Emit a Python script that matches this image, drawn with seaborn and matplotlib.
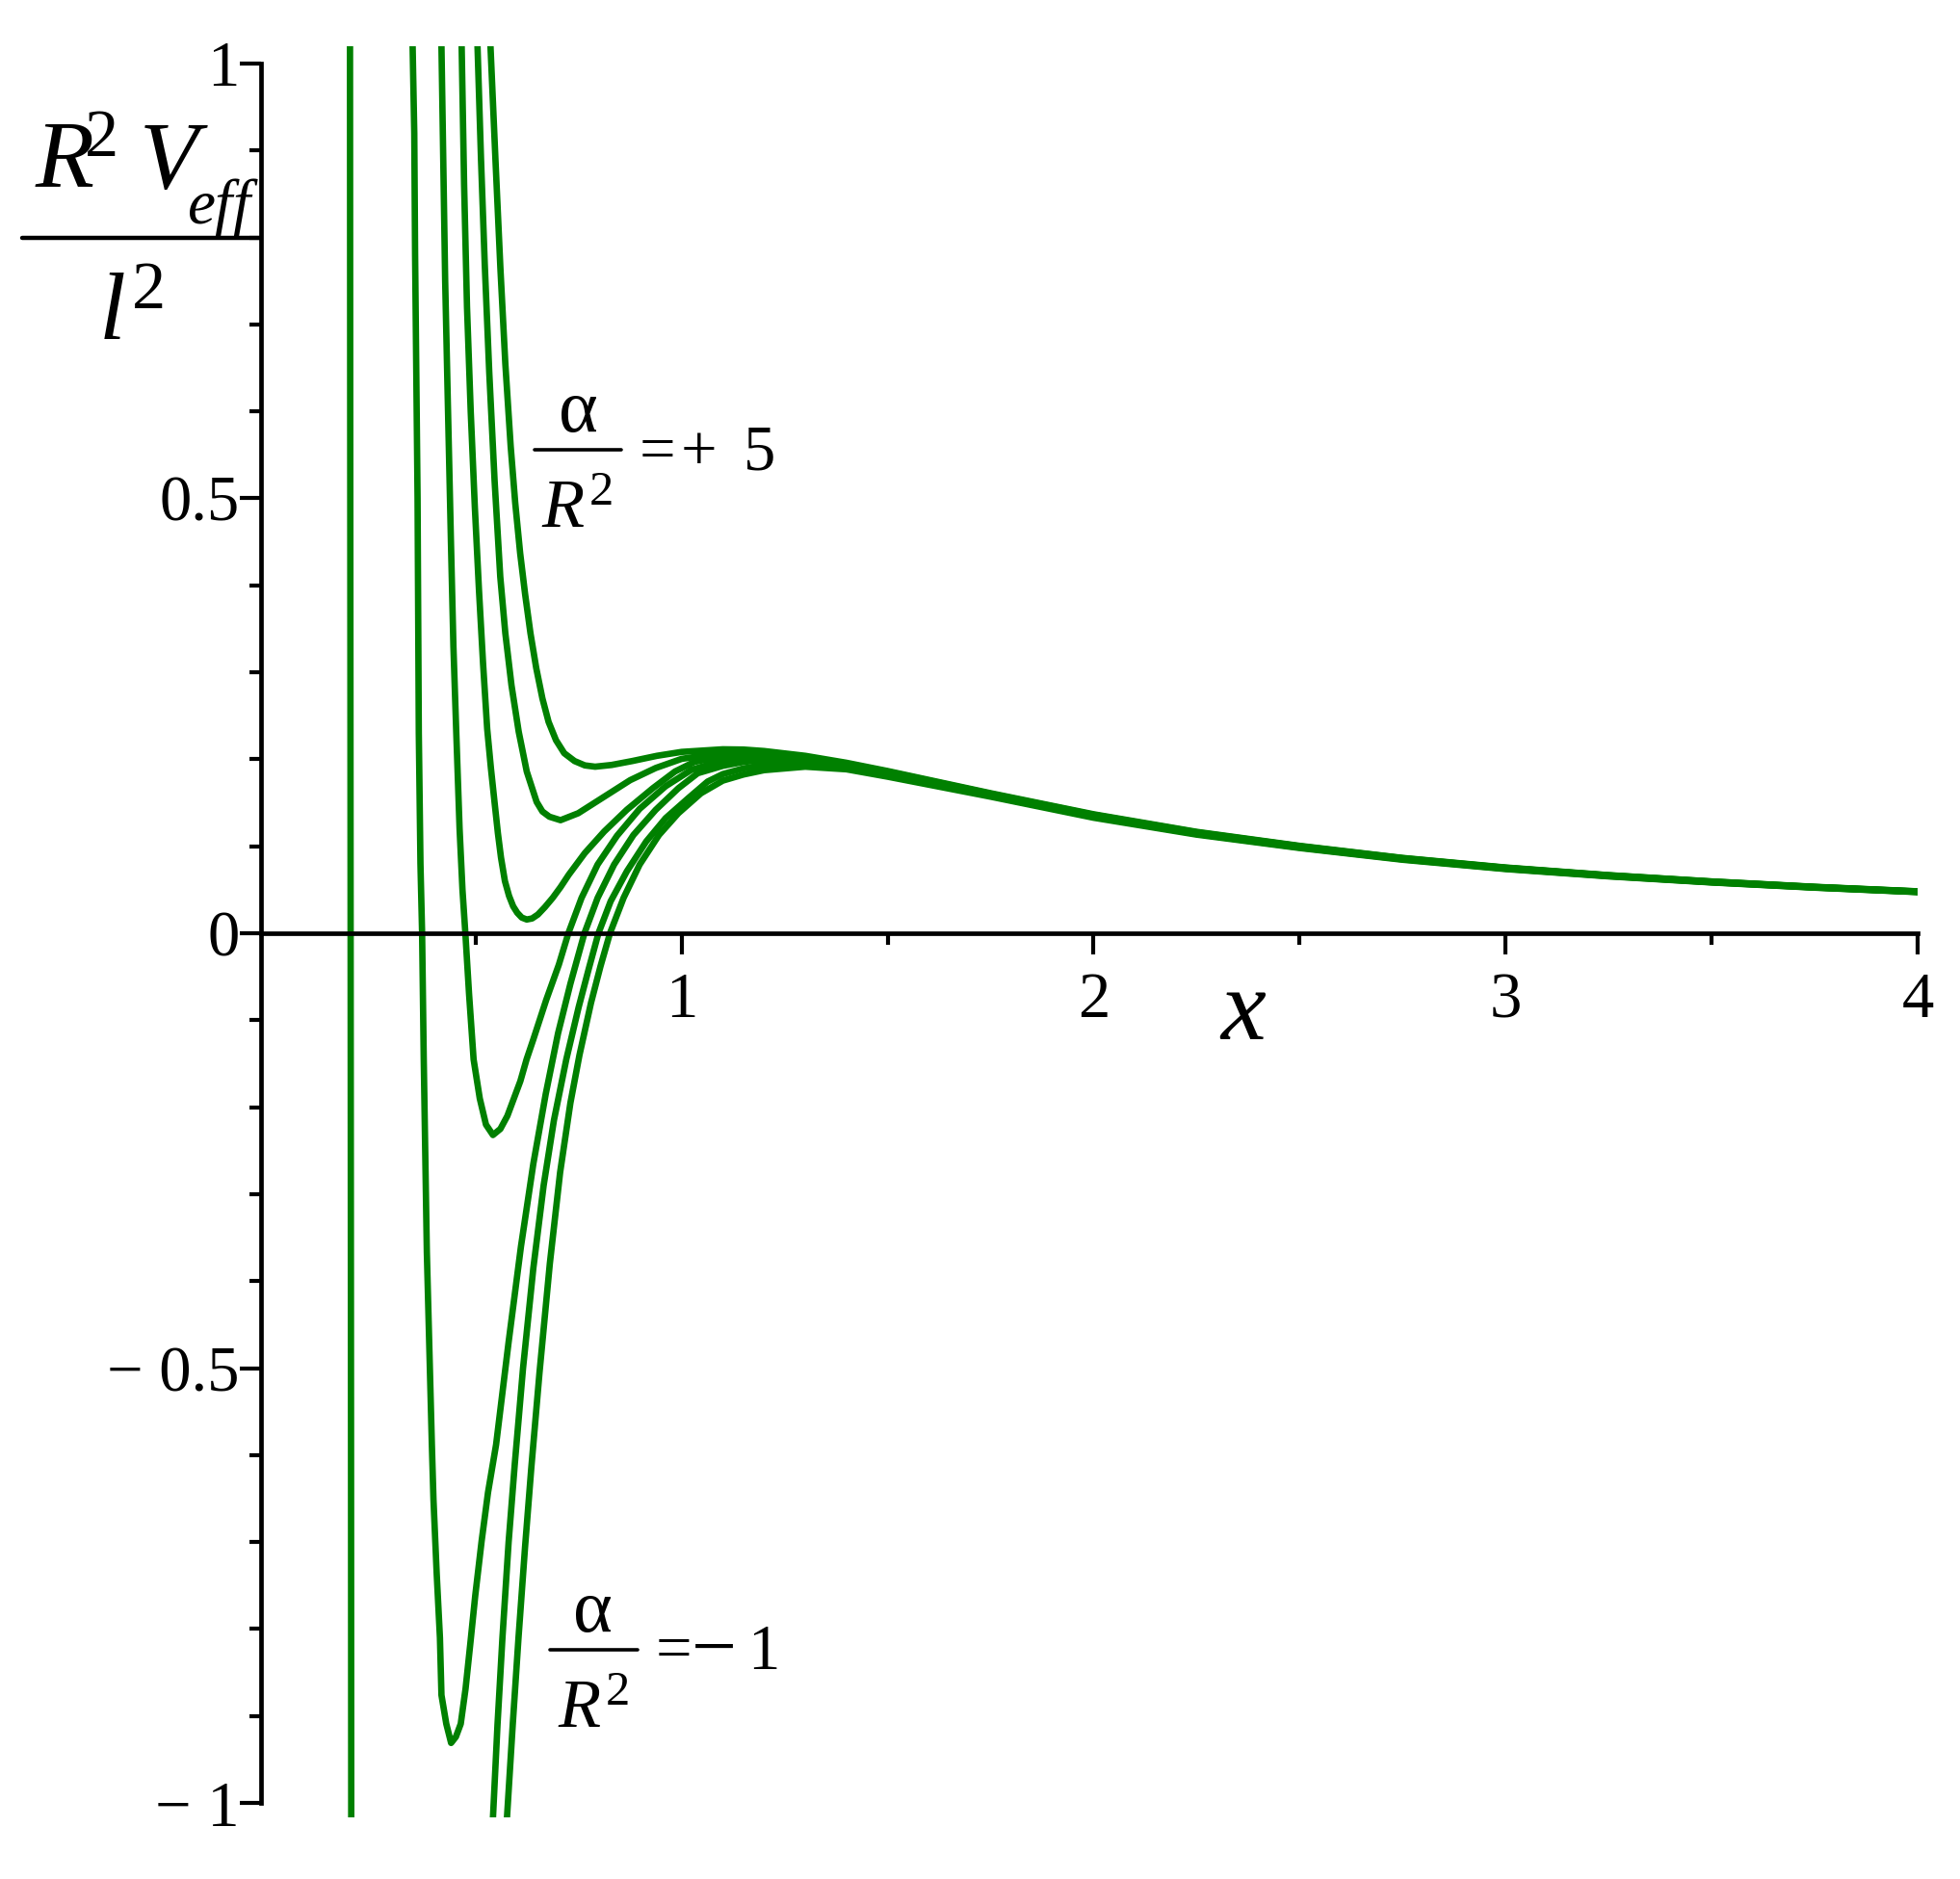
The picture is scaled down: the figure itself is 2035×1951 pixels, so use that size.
import matplotlib
matplotlib.use("Agg")
import matplotlib.pyplot as plt
from matplotlib.lines import Line2D
import seaborn as sns
import pandas as pd

sns.set_style("white")
plt.rcParams["font.family"] = ["Liberation Serif", "DejaVu Serif"]
plt.rcParams["mathtext.fontset"] = "custom"
plt.rcParams["mathtext.rm"] = "Liberation Serif"
plt.rcParams["mathtext.it"] = "Liberation Serif:italic"
plt.rcParams["mathtext.bf"] = "Liberation Serif:bold"
plt.rcParams["text.color"] = "black"

GREEN = "#008000"
W, H = 2035, 1951

# shared tail of all curves (x >= 1.1), values read per curve
tail_x = [1.1, 1.15, 1.2, 1.3, 1.4, 1.5, 1.75, 2.0, 2.25, 2.5, 2.75, 3.0, 3.25, 3.5, 3.75, 4.0]

# alpha/R^2 = +5
c5_x = [0.536, 0.548, 0.56, 0.572, 0.585, 0.596, 0.608, 0.62, 0.633, 0.647, 0.662, 0.677,
        0.695, 0.715, 0.74, 0.765, 0.79, 0.83, 0.88, 0.94, 1.0]
c5_y = [1.02, 0.89, 0.765, 0.655, 0.56, 0.495, 0.437, 0.39, 0.345, 0.305, 0.27, 0.243,
        0.222, 0.207, 0.198, 0.193, 0.1915, 0.1935, 0.198, 0.204, 0.2085]
c5_tail = [0.2115, 0.2112, 0.2095, 0.204, 0.196, 0.1865, 0.161, 0.1368, 0.1166, 0.1005, 0.0866,
           0.0756, 0.0668, 0.0596, 0.0534, 0.0482]

c4_x = [0.5045, 0.513, 0.522, 0.533, 0.546, 0.5597, 0.572, 0.587, 0.6045, 0.624, 0.648, 0.662,
        0.679, 0.706, 0.749, 0.812, 0.875, 0.937, 1.0]
c4_y = [1.02, 0.89, 0.77, 0.645, 0.52, 0.41, 0.345, 0.285, 0.2317, 0.186, 0.151, 0.14,
        0.134, 0.130, 0.138, 0.157, 0.176, 0.19, 0.2005]
c4_tail = [0.2075, 0.2085, 0.2075, 0.2025, 0.195, 0.1858, 0.1604, 0.1362, 0.1161, 0.1001, 0.0863,
           0.0753, 0.0666, 0.0594, 0.0532, 0.0481]

c3_x = [0.466, 0.472, 0.479, 0.488, 0.498, 0.508, 0.518, 0.528, 0.537, 0.546, 0.554, 0.5615,
        0.571, 0.581, 0.591, 0.601, 0.612, 0.624, 0.637, 0.651, 0.668, 0.687, 0.706, 0.726,
        0.765, 0.812, 0.867, 0.93, 0.984, 1.031]
c3_y = [1.02, 0.86, 0.72, 0.60, 0.49, 0.395, 0.31, 0.235, 0.19, 0.15, 0.115, 0.087,
        0.06, 0.043, 0.031, 0.0235, 0.018, 0.0158, 0.017, 0.0215, 0.03, 0.0407, 0.053, 0.0673,
        0.0922, 0.117, 0.142, 0.1667, 0.186, 0.197]
c3_tail = [0.2035, 0.2055, 0.2055, 0.2015, 0.1942, 0.1851, 0.1599, 0.1357, 0.1157, 0.0998, 0.086,
           0.0751, 0.0664, 0.0592, 0.0531, 0.0479]

c2_x = [0.417, 0.421, 0.426, 0.432, 0.44, 0.446, 0.453, 0.461, 0.468, 0.475, 0.484, 0.495,
        0.51, 0.525, 0.542, 0.56, 0.577, 0.6085, 0.6236, 0.64, 0.671, 0.702, 0.725, 0.757,
        0.796, 0.843, 0.898, 0.961, 1.024]
c2_y = [1.02, 0.90, 0.75, 0.62, 0.45, 0.33, 0.23, 0.12, 0.05, 0.0, -0.07, -0.145,
        -0.19, -0.22, -0.232, -0.225, -0.21, -0.17, -0.145, -0.122, -0.077, -0.036, 0.0, 0.0406,
        0.079, 0.112, 0.143, 0.169, 0.188]
c2_tail = [0.1985, 0.2015, 0.2025, 0.2, 0.1935, 0.1844, 0.1594, 0.1352, 0.1153, 0.0994, 0.0857,
           0.0748, 0.0662, 0.059, 0.0529, 0.0478]

c1_x = [0.347, 0.351, 0.353, 0.356, 0.359, 0.36, 0.362, 0.366, 0.37, 0.374, 0.3815, 0.3937,
        0.3976, 0.4054, 0.4133, 0.417, 0.4287, 0.4404, 0.452, 0.4638, 0.4755, 0.487, 0.499,
        0.5145, 0.53, 0.5496, 0.58, 0.61, 0.64, 0.67, 0.70, 0.73, 0.764, 0.796, 0.836, 0.883,
        0.937, 0.992, 1.039]
c1_y = [1.02, 0.92, 0.78, 0.64, 0.5, 0.41, 0.23, 0.08, 0.0, -0.145, -0.3665, -0.588,
        -0.651, -0.736, -0.81, -0.876, -0.909, -0.931, -0.924, -0.909, -0.8686, -0.817, -0.7616,
        -0.6988, -0.643, -0.588, -0.47, -0.36, -0.265, -0.185, -0.115, -0.058, 0.0, 0.0406, 0.0789,
        0.113, 0.1419, 0.1667, 0.184]
c1_tail = [0.1925, 0.197, 0.1995, 0.198, 0.1925, 0.1836, 0.1589, 0.1346, 0.1148, 0.099, 0.0854,
           0.0745, 0.066, 0.0588, 0.0528, 0.0476]

c0_x = [0.542, 0.553, 0.565, 0.58, 0.595, 0.615, 0.64, 0.665, 0.69, 0.72, 0.75, 0.775, 0.798,
        0.8277, 0.867, 0.914, 0.961, 1.016, 1.063]
c0_y = [-1.017, -0.91, -0.81, -0.70, -0.61, -0.50, -0.385, -0.29, -0.215, -0.145, -0.085, -0.04,
        0.0, 0.0368, 0.0712, 0.1055, 0.1323, 0.1553, 0.1744]
c0_tail = [0.183, 0.1895, 0.1935, 0.195, 0.1905, 0.1822, 0.158, 0.1338, 0.1142, 0.0985, 0.085,
           0.0742, 0.0657, 0.0586, 0.0526, 0.0475]

# alpha/R^2 = -1
cm1_x = [0.576, 0.59, 0.604, 0.62, 0.635, 0.655, 0.68, 0.705, 0.73, 0.752, 0.78, 0.803, 0.826,
         0.859, 0.898, 0.945, 0.992, 1.047]
cm1_y = [-1.017, -0.91, -0.81, -0.705, -0.615, -0.505, -0.38, -0.275, -0.195, -0.14, -0.08,
         -0.038, 0.0, 0.0406, 0.0789, 0.113, 0.138, 0.161]
cm1_tail = [0.1755, 0.1825, 0.1875, 0.1915, 0.1885, 0.18, 0.157, 0.1328, 0.1134, 0.098, 0.0845,
            0.0738, 0.0654, 0.0584, 0.0524, 0.0473]

# near-vertical jump
spike_x = [0.195, 0.1955, 0.1965, 0.1975, 0.198]
spike_y = [1.02, 0.6, 0.0, -0.6, -1.017]

curves = [
    ("+5", c5_x + tail_x, c5_y + c5_tail),
    ("+4", c4_x + tail_x, c4_y + c4_tail),
    ("+3", c3_x + tail_x, c3_y + c3_tail),
    ("+2", c2_x + tail_x, c2_y + c2_tail),
    ("+1", c1_x + tail_x, c1_y + c1_tail),
    ("0", c0_x + tail_x, c0_y + c0_tail),
    ("-1", cm1_x + tail_x, cm1_y + cm1_tail),
    ("spike", spike_x, spike_y),
]
df = pd.concat([pd.DataFrame({"x": xs, "y": ys, "curve": name}) for name, xs, ys in curves],
               ignore_index=True)

x0, x1 = -0.021, 4.0
y0, y1 = -1.017, 1.02
fig = plt.figure(figsize=(W / 100, H / 100), dpi=100)
ax = fig.add_axes([271 / W, 1 - 1887.4 / H, (1991 - 271) / W, (1887.4 - 47.9) / H])

sns.lineplot(data=df, x="x", y="y", units="curve", estimator=None, sort=False,
             color=GREEN, linewidth=4.8, ax=ax, legend=False)

ax.set_xlim(x0, x1)
ax.set_ylim(y0, y1)
for s in ["top", "right"]:
    ax.spines[s].set_visible(False)
ax.spines["bottom"].set_position(("data", 0))
ax.spines["bottom"].set_bounds(x0, 4.0)
ax.spines["left"].set_bounds(-1, 1)
for s in ["bottom", "left"]:
    ax.spines[s].set_linewidth(3.4)
    ax.spines[s].set_color("black")

ax.set_xticks([1, 2, 3, 4])
ax.set_xticklabels(["1", "2", "3", "4"])
ax.set_xticks([0.5, 1.5, 2.5, 3.5], minor=True)
ax.set_yticks([-1, -0.5, 0, 0.5, 1])
ax.set_yticklabels(["\u2212 1", "\u2212 0.5", "0", "0.5", "1"])
ax.set_yticks([-0.9, -0.8, -0.7, -0.6, -0.4, -0.3, -0.2, -0.1,
               0.1, 0.2, 0.3, 0.4, 0.6, 0.7, 0.8, 0.9], minor=True)
ax.tick_params(which="both", bottom=True, left=True, direction="out", width=3,
               color="black", labelcolor="black")
ax.tick_params(which="major", length=16, labelsize=48)
ax.tick_params(which="minor", length=8.5)
ax.tick_params(axis="x", which="major", pad=13)
ax.tick_params(axis="y", which="major", pad=0)
ax.set_xlabel("")
ax.set_ylabel("")


def px(X, Y):
    return X / W, 1 - Y / H


def put(X, Y, s, size, ha="left"):
    fig.text(*px(X, Y), s, fontsize=size, ha=ha, va="baseline")


def bar(xa, xb, y, lw=3.0):
    fa, fy = px(xa, y)
    fb, _ = px(xb, y)
    fig.add_artist(Line2D([fa, fb], [fy, fy], transform=fig.transFigure, color="black", lw=lw))


# y axis label as a stacked fraction
put(36, 195, r"$R^{\!\!2}$", 72)
put(144, 195, r"$V$", 72)
put(194, 232, r"$eff$", 47)
bar(23, 270, 247, lw=3.2)
put(136, 353, r"$l^{2}$", 72, ha="center")

# x axis label
fig.text(*px(1291, 1054), r"$x$", fontsize=76, ha="center", va="center")

# alpha/R^2 = +5 annotation
put(600, 448, "\u03b1", 56, ha="center")
bar(555, 645, 467, lw=2.6)
put(599, 548, r"$R^{2}$", 52, ha="center")
put(664, 488, "=", 48)
put(707, 488, "+", 48)
put(772, 488, "5", 48)

# alpha/R^2 = -1 annotation
put(615, 1694, "\u03b1", 56, ha="center")
bar(571, 662, 1713, lw=2.6)
put(616, 1794, r"$R^{2}$", 52, ha="center")
put(681, 1733, "=", 48)
put(718, 1737, "\u2212", 60)
put(776, 1733, "1", 48)

fig.savefig("out.png", dpi=100, facecolor="white")
